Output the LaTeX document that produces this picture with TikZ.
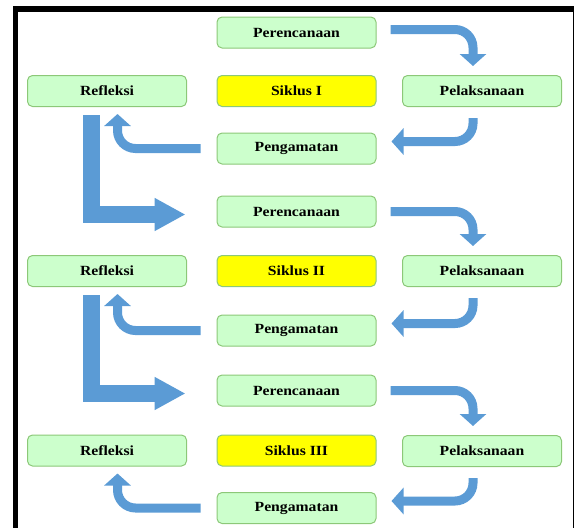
\documentclass[tikz,border=0pt]{standalone}
\usepackage{fontspec}
\setmainfont[FakeStretch=1.12]{Liberation Serif}
\usetikzlibrary{arrows.meta}
\definecolor{mintgreen}{HTML}{CCFFCC}
\definecolor{leafline}{HTML}{8CC878}
\definecolor{sunyellow}{HTML}{FFFF00}
\definecolor{steelblue}{HTML}{5B9BD5}

\tikzset{
  tahap/.style={draw=leafline,fill=mintgreen,line width=1pt,rounded corners=5pt,
    minimum width=159pt,minimum height=31pt,inner sep=0pt,
    font=\fontsize{14}{16}\selectfont\bfseries},
  siklus/.style={tahap,fill=sunyellow},
  panah/.style={draw=steelblue,line width=9pt,rounded corners=18pt,
    -{Triangle[width=26pt,length=12pt]}},
  panahbesar/.style={draw=steelblue,line width=17pt,line join=miter,
    -{Triangle[width=31pt,length=31pt]}}
}

\begin{document}
\begin{tikzpicture}[x=1pt,y=-1pt]
	\useasboundingbox (0,0) rectangle (574,528);
	% bingkai
	\fill[black] (13,6) rectangle (18,528);
	\fill[black] (13,6) rectangle (574,12);
	\draw[black,line width=1pt] (573,12) -- (573,528);

	% siklus I
	\node[tahap] (per1) at (296.5,32.5) {Perencanaan};
	\node[siklus] (sik1) at (296.5,91) {Siklus I};
	\node[tahap] (ref1) at (107,91) {Refleksi};
	\node[tahap] (pel1) at (482,91) {Pelaksanaan};
	\node[tahap] (pen1) at (296.5,148.5) {Pengamatan};

	% siklus II
	\node[tahap] (per2) at (296.5,211.5) {Perencanaan};
	\node[siklus] (sik2) at (296.5,271) {Siklus II};
	\node[tahap] (ref2) at (107,271) {Refleksi};
	\node[tahap] (pel2) at (482,271) {Pelaksanaan};
	\node[tahap] (pen2) at (296.5,330.5) {Pengamatan};

	% siklus III
	\node[tahap] (per3) at (296.5,390.5) {Perencanaan};
	\node[siklus] (sik3) at (296.5,450.5) {Siklus III};
	\node[tahap] (ref3) at (107,450.5) {Refleksi};
	\node[tahap] (pel3) at (482,451) {Pelaksanaan};
	\node[tahap] (pen3) at (296.5,508) {Pengamatan};

	% panah siklus I
	\draw[panah] ([xshift=14pt,yshift=3pt]per1.east) -| ([xshift=-9pt,yshift=9pt]pel1.north);
	\draw[panah] ([xshift=-9pt,yshift=-11pt]pel1.south) |- ([xshift=15pt,yshift=7pt]pen1.east);
	\draw[panah] ([xshift=-16pt]pen1.west) -| ([xshift=10.5pt,yshift=-7pt]ref1.south);
	\draw[panahbesar] ([xshift=-15.5pt,yshift=-8pt]ref1.south) |- ([xshift=-31pt,yshift=-3pt]per2.west);

	% panah siklus II
	\draw[panah] ([xshift=14pt,yshift=0pt]per2.east) -| ([xshift=-9pt,yshift=9pt]pel2.north);
	\draw[panah] ([xshift=-9pt,yshift=-11pt]pel2.south) |- ([xshift=15pt,yshift=7pt]pen2.east);
	\draw[panah] ([xshift=-16pt]pen2.west) -| ([xshift=10.5pt,yshift=-7pt]ref2.south);
	\draw[panahbesar] ([xshift=-15.5pt,yshift=-8pt]ref2.south) |- ([xshift=-31pt,yshift=-3pt]per3.west);

	% panah siklus III
	\draw[panah] ([xshift=14pt,yshift=0pt]per3.east) -| ([xshift=-9pt,yshift=9pt]pel3.north);
	\draw[panah] ([xshift=-9pt,yshift=-11pt]pel3.south) |- ([xshift=15pt,yshift=7pt]pen3.east);
	\draw[panah] ([xshift=-16pt]pen3.west) -| ([xshift=10.5pt,yshift=-7pt]ref3.south);
\end{tikzpicture}
\end{document}
